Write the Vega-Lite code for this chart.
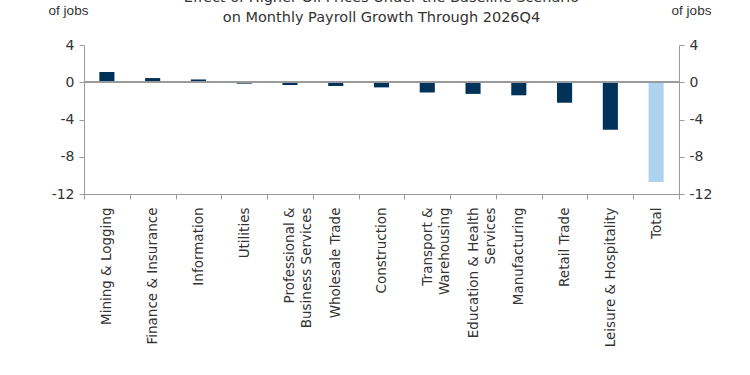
{
  "$schema": "https://vega.github.io/schema/vega-lite/v6.json",
  "autosize": "none",
  "width": 595,
  "height": 149,
  "padding": {"left": 84, "top": 45, "right": 71, "bottom": 181},
  "background": "white",
  "config": {
    "view": {"stroke": null},
    "font": "Liberation Sans",
    "axis": {"labelColor": "#333333", "titleColor": "#333333", "domainColor": "#9a9a9a", "tickColor": "#9a9a9a", "labelFont": "DejaVu Sans", "titleFont": "Liberation Sans", "titleFontWeight": "normal", "grid": false}
  },
  "title": {
    "text": ["Effect of Higher Oil Prices Under the Baseline Scenario", "on Monthly Payroll Growth Through  2026Q4"],
    "font": "DejaVu Sans",
    "fontSize": 14.5,
    "fontWeight": "normal",
    "color": "#333333",
    "anchor": "middle",
    "frame": "group",
    "lineHeight": 20,
    "offset": -22
  },
  "data": {
    "values": [
      {"sector": "Mining & Logging", "value": 1.1, "kind": "sector"},
      {"sector": "Finance & Insurance", "value": 0.45, "kind": "sector"},
      {"sector": "Information", "value": 0.3, "kind": "sector"},
      {"sector": "Utilities", "value": -0.15, "kind": "sector"},
      {"sector": "Professional & Business Services", "value": -0.3, "kind": "sector"},
      {"sector": "Wholesale Trade", "value": -0.4, "kind": "sector"},
      {"sector": "Construction", "value": -0.55, "kind": "sector"},
      {"sector": "Transport & Warehousing", "value": -1.1, "kind": "sector"},
      {"sector": "Education & Health Services", "value": -1.25, "kind": "sector"},
      {"sector": "Manufacturing", "value": -1.4, "kind": "sector"},
      {"sector": "Retail Trade", "value": -2.2, "kind": "sector"},
      {"sector": "Leisure & Hospitality", "value": -5.1, "kind": "sector"},
      {"sector": "Total", "value": -10.7, "kind": "total"}
    ]
  },
  "layer": [
    {
      "mark": {"type": "bar", "width": {"band": 0.33}},
      "encoding": {
        "x": {
          "field": "sector",
          "type": "nominal",
          "sort": null,
          "scale": {"paddingInner": 0, "paddingOuter": 0},
          "axis": {
            "title": null,
            "labelAngle": -90,
            "labelFontSize": 13.5,
            "labelPadding": 8,
            "labelLineHeight": 17,
            "tickSize": 5,
            "tickBand": "extent",
            "labelExpr": "datum.label == 'Professional & Business Services' ? ['Professional &', 'Business Services'] : datum.label == 'Transport & Warehousing' ? ['Transport &', 'Warehousing'] : datum.label == 'Education & Health Services' ? ['Education & Health', 'Services'] : datum.label"
          }
        },
        "y": {
          "field": "value",
          "type": "quantitative",
          "scale": {"domain": [-12, 4], "nice": false, "zero": false},
          "axis": {
            "values": [4, 0, -4, -8, -12],
            "labelExpr": "replace(datum.label, '−', '-')",
            "labelFontSize": 14,
            "tickSize": 5,
            "labelPadding": 5,
            "title": "of jobs",
            "titleAngle": 0,
            "titleFontSize": 13.5,
            "titleAlign": "center",
            "titleBaseline": "middle",
            "titleX": -16,
            "titleY": -35
          }
        },
        "color": {
          "field": "kind",
          "type": "nominal",
          "scale": {"domain": ["sector", "total"], "range": ["#00325a", "#aed3ef"]},
          "legend": null
        }
      }
    },
    {
      "mark": {"type": "rule", "color": "#9a9a9a", "strokeWidth": 1},
      "encoding": {"y": {"datum": 0, "type": "quantitative", "axis": null}}
    },
    {
      "mark": {"type": "point", "opacity": 0},
      "encoding": {
        "y": {
          "datum": 0,
          "type": "quantitative",
          "axis": {
            "orient": "right",
            "values": [4, 0, -4, -8, -12],
            "labelExpr": "replace(datum.label, '−', '-')",
            "labelFontSize": 14,
            "tickSize": 5,
            "labelPadding": 5,
            "title": "of jobs",
            "titleAngle": 0,
            "titleFontSize": 13.5,
            "titleAlign": "center",
            "titleBaseline": "middle",
            "titleX": 12,
            "titleY": -35
          }
        }
      }
    }
  ],
  "resolve": {"scale": {"y": "shared"}, "axis": {"y": "independent"}}
}
